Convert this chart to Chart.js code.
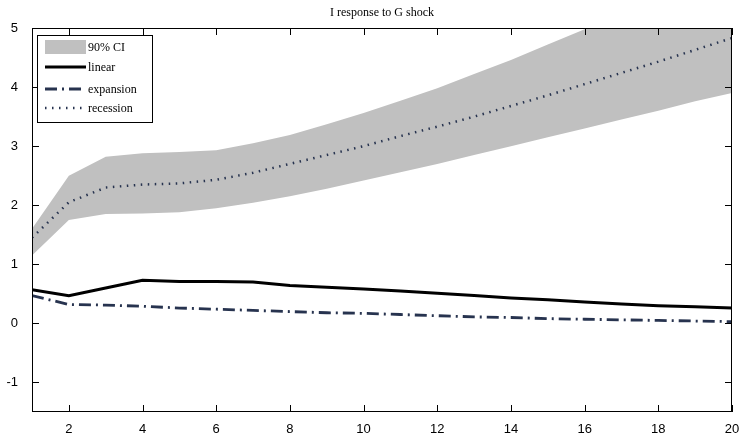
<!DOCTYPE html>
<html><head><meta charset="utf-8">
<script src="https://cdn.jsdelivr.net/npm/chart.js@4"></script>
<style>html,body{margin:0;padding:0;background:#fff}#wrap{width:743px;height:435px}</style>
</head><body><div id="wrap"><canvas id="c"></canvas></div>
<script>
const horizons = [1,2,3,4,5,6,7,8,9,10,11,12,13,14,15,16,17,18,19,20];
const linear =    [0.57,0.47,0.60,0.73,0.71,0.71,0.70,0.64,0.61,0.58,0.55,0.51,0.47,0.43,0.40,0.36,0.33,0.30,0.28,0.26];
const expansion = [0.47,0.32,0.31,0.29,0.26,0.24,0.22,0.20,0.18,0.17,0.15,0.13,0.11,0.10,0.08,0.07,0.06,0.05,0.04,0.03];
const recession = [1.45,2.05,2.30,2.35,2.37,2.43,2.55,2.70,2.85,3.00,3.17,3.33,3.50,3.68,3.86,4.05,4.24,4.43,4.63,4.83];
const ciUpper =   [1.60,2.50,2.82,2.88,2.90,2.93,3.05,3.19,3.37,3.56,3.77,3.98,4.22,4.46,4.72,4.98,5.25,5.50,5.75,6.00];
const ciLower =   [1.15,1.75,1.85,1.86,1.88,1.95,2.04,2.15,2.28,2.42,2.56,2.70,2.85,3.00,3.15,3.30,3.45,3.60,3.76,3.90];
const xTicks = [2,4,6,8,10,12,14,16,18,20];
const yTicks = [-1,0,1,2,3,4,5];
const title = 'I response to G shock';
const legendLabels = ['90% CI','linear','expansion','recession'];

const pts = a => a.map((v,i)=>({x:horizons[i], y:v}));
const GRAY = '#c0c0c0', NAVY = '#27334f';

const framePlugin = {
  id:'frame',
  afterDatasetsDraw(chart){
    const ctx = chart.ctx, a = chart.chartArea;
    const xs = chart.scales.x, ys = chart.scales.y;
    ctx.save();
    ctx.strokeStyle = '#000'; ctx.lineWidth = 1;
    ctx.strokeRect(a.left+0.5, a.top+0.5, a.right-a.left-1, a.bottom-a.top-1);
    ctx.beginPath();
    const tl = 7;
    xTicks.forEach(v=>{ const px = Math.round(xs.getPixelForValue(v))+0.5;
      ctx.moveTo(px,a.bottom); ctx.lineTo(px,a.bottom-tl);
      ctx.moveTo(px,a.top); ctx.lineTo(px,a.top+tl); });
    yTicks.forEach(v=>{ const py = Math.round(ys.getPixelForValue(v))+0.5;
      ctx.moveTo(a.left,py); ctx.lineTo(a.left+tl,py);
      ctx.moveTo(a.right,py); ctx.lineTo(a.right-tl,py); });
    ctx.stroke();
    // title
    ctx.fillStyle = '#000';
    ctx.font = '12px "Liberation Serif"';
    ctx.textAlign = 'center'; ctx.textBaseline = 'middle';
    ctx.fillText(title, (a.left+a.right)/2, 13);
    // legend
    const lx = 37, ly = 35, lw = 115, lh = 87;
    ctx.fillStyle = '#fff'; ctx.fillRect(lx,ly,lw,lh);
    ctx.strokeStyle = '#000'; ctx.lineWidth = 1;
    ctx.strokeRect(lx+0.5,ly+0.5,lw,lh);
    const ds = chart.data.datasets;
    ctx.font = '12px "Liberation Serif"';
    ctx.textAlign = 'left';
    const rows = [47, 67, 89, 108];
    ctx.fillStyle = GRAY; ctx.fillRect(45,40,41,14);
    const lines = [ds[0], ds[1], ds[2]];
    lines.forEach((d,i)=>{
      ctx.beginPath(); ctx.strokeStyle = d.borderColor; ctx.lineWidth = d.borderWidth;
      ctx.setLineDash(d.borderDash||[]);
      ctx.moveTo(45, rows[i+1]); ctx.lineTo(86, rows[i+1]); ctx.stroke();
    });
    ctx.setLineDash([]);
    ctx.fillStyle = '#000';
    legendLabels.forEach((t,i)=>ctx.fillText(t, 88, rows[i]+1));
    ctx.restore();
  }
};

new Chart(document.getElementById('c'), {
  type:'line',
  data:{ datasets:[
    {label:'linear', data:pts(linear), borderColor:'#000', borderWidth:3, pointRadius:0, fill:false},
    {label:'expansion', data:pts(expansion), borderColor:NAVY, borderWidth:2.8, borderDash:[12,5,2,5], pointRadius:0, fill:false},
    {label:'recession', data:pts(recession), borderColor:NAVY, borderWidth:2.5, borderDash:[1.5,5.5], pointRadius:0, fill:false},
    {label:'ci upper', data:pts(ciUpper), borderWidth:0, borderColor:GRAY, backgroundColor:GRAY, pointRadius:0, fill:'+1'},
    {label:'ci lower', data:pts(ciLower), borderWidth:0, borderColor:GRAY, backgroundColor:GRAY, pointRadius:0, fill:false}
  ]},
  options:{
    responsive:true, maintainAspectRatio:false, animation:false,
    layout:{padding:{top:28,right:11,left:0,bottom:0}},
    plugins:{legend:{display:false}, tooltip:{enabled:false}, title:{display:false}},
    elements:{line:{tension:0}},
    scales:{
      x:{type:'linear', min:1, max:20,
        afterBuildTicks(s){ s.ticks = xTicks.map(v=>({value:v})); },
        afterFit(s){ s.height = 23; },
        grid:{display:false}, border:{display:false},
        ticks:{color:'#000', font:{family:'"Liberation Sans"', size:13}, padding:2, maxRotation:0, autoSkip:false}},
      y:{type:'linear', min:-1.5, max:5,
        afterBuildTicks(s){ s.ticks = yTicks.map(v=>({value:v})); },
        afterFit(s){ s.width = 32; },
        grid:{display:false}, border:{display:false},
        ticks:{color:'#000', font:{family:'"Liberation Sans"', size:13}, padding:6}}
    }
  },
  plugins:[framePlugin]
});
</script></body></html>
